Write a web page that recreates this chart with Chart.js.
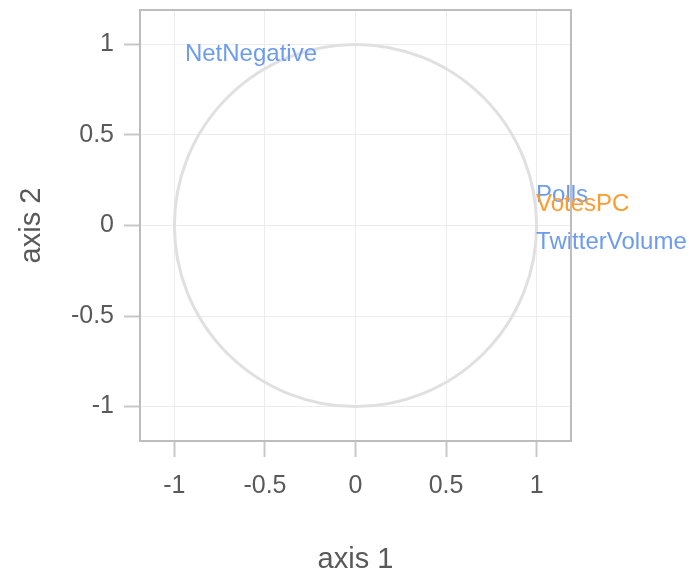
<!DOCTYPE html>
<html>
<head>
<meta charset="utf-8">
<script src="https://cdn.jsdelivr.net/npm/chart.js@4"></script>
<style>
    body { margin: 0; background: #fff; }
</style>
</head>
<body>
<canvas id="main" width="699" height="573"></canvas>
<script>
// Variables on the correlation circle
const varNames   = ['Polls', 'VotesPC', 'TwitterVolume', 'NetNegative']
const varDim1    = [0.997, 0.997, 0.997, -0.942]
const varDim2    = [0.165, 0.118, -0.092, 0.947]
const varCluster = [1, 2, 1, 1]

// Axis setup
const axisMin = -1.19
const axisMax = 1.19
const tickStep = 0.5
const circleRadius = 1

const clusterColors = { 1: '#6d9bef', 2: '#ff9a2e' }
const fontFamily = '"Liberation Sans", Arial, sans-serif'

// Unit circle drawn through the scales
const circlePlugin = {
    id: 'circle',
    beforeDatasetsDraw(chart) {
        const x = chart.scales.x
        const y = chart.scales.y
        const cx = x.getPixelForValue(0)
        const cy = y.getPixelForValue(0)
        const rx = x.getPixelForValue(circleRadius) - cx
        const ry = cy - y.getPixelForValue(circleRadius)
        const ctx = chart.ctx
        ctx.save()
        ctx.strokeStyle = '#e0e0e0'
        ctx.lineWidth = 3
        ctx.beginPath()
        ctx.ellipse(cx, cy, rx, ry, 0, 0, Math.PI * 2)
        ctx.stroke()
        ctx.restore()
    }
}

// Box around the panel
const boxPlugin = {
    id: 'box',
    afterDraw(chart) {
        const a = chart.chartArea
        const ctx = chart.ctx
        ctx.save()
        ctx.strokeStyle = '#bdbdbd'
        ctx.lineWidth = 2
        ctx.strokeRect(a.left, a.top, a.right - a.left, a.bottom - a.top)
        ctx.restore()
    }
}

// Variable names as text labels
const labelPlugin = {
    id: 'labels',
    afterDatasetsDraw(chart) {
        const meta = chart.getDatasetMeta(0)
        const ctx = chart.ctx
        ctx.save()
        ctx.font = '24px ' + fontFamily
        ctx.textAlign = 'left'
        ctx.textBaseline = 'middle'
        meta.data.forEach(function(pt, i) {
            ctx.fillStyle = clusterColors[varCluster[i]]
            ctx.fillText(varNames[i], pt.x, pt.y)
        })
        ctx.restore()
    }
}

let points = varNames.map(function(n, i) {
    return { x: varDim1[i], y: varDim2[i] }
})

let tickFmt = function(v) {
    return String(+v.toFixed(2))
}

window.varChart = new Chart('main', {
    type: 'scatter',
    data: {
        datasets: [{
            label: 'variables',
            data: points,
            pointRadius: 0,
            pointHoverRadius: 0,
        }]
    },
    options: {
        responsive: false,
        animation: false,
        events: [],
        layout: {
            padding: { left: 0, right: 128, top: 10, bottom: 0 }
        },
        scales: {
            x: {
                type: 'linear',
                min: axisMin,
                max: axisMax,
                afterFit: function(s) {
                    s.height = 132
                    s.paddingLeft = 0
                    s.paddingRight = 0
                },
                border: { display: false },
                grid: {
                    color: '#ececec',
                    lineWidth: 1,
                    tickColor: '#c8c8c8',
                    tickWidth: 2,
                    tickLength: 16,
                },
                ticks: {
                    stepSize: tickStep,
                    includeBounds: false,
                    padding: 14,
                    color: '#595959',
                    font: { family: fontFamily, size: 25 },
                    callback: tickFmt,
                    maxRotation: 0,
                },
                title: {
                    display: true,
                    text: 'axis 1',
                    color: '#595959',
                    font: { family: fontFamily, size: 29, lineHeight: 1 },
                    padding: { top: 0, bottom: -1 },
                }
            },
            y: {
                type: 'linear',
                min: axisMin,
                max: axisMax,
                afterFit: function(s) {
                    s.width = 140
                    s.paddingTop = 0
                    s.paddingBottom = 0
                },
                border: { display: false },
                grid: {
                    color: '#ececec',
                    lineWidth: 1,
                    tickColor: '#c8c8c8',
                    tickWidth: 2,
                    tickLength: 16,
                },
                ticks: {
                    stepSize: tickStep,
                    includeBounds: false,
                    padding: 10,
                    color: '#595959',
                    font: { family: fontFamily, size: 25 },
                    callback: tickFmt,
                },
                title: {
                    display: true,
                    text: 'axis 2',
                    color: '#595959',
                    font: { family: fontFamily, size: 29, lineHeight: 1 },
                    padding: { top: 17, bottom: 0 },
                }
            },
        },
        plugins: {
            legend: { display: false },
            tooltip: { enabled: false },
            title: { display: false },
        },
    },
    plugins: [circlePlugin, labelPlugin, boxPlugin],
})
</script>
</body>
</html>
